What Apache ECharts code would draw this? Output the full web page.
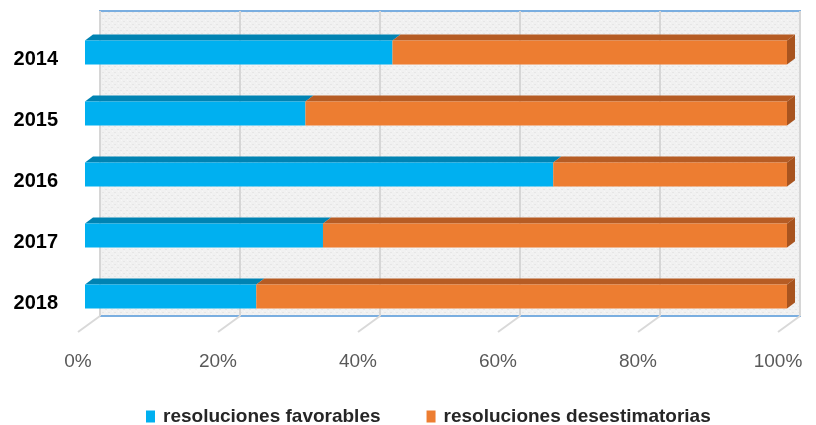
<!DOCTYPE html>
<html>
<head>
<meta charset="utf-8">
<script src="https://cdn.jsdelivr.net/npm/echarts@6/dist/echarts.min.js"></script>
<style>
  html, body { margin: 0; padding: 0; background: #ffffff; }
  #chart { width: 816px; height: 425px; }
</style>
</head>
<body>
<div id="chart"></div>
<script>
// Years shown on the category axis, top to bottom
const years = ['2014', '2015', '2016', '2017', '2018'];
// Share of resolutions per year (percent)
const favorables = [43.8, 31.4, 66.7, 33.9, 24.4];
const desestimatorias = [56.2, 68.6, 33.3, 66.1, 75.6];
// Percent ticks along the value axis
const percentTicks = [0, 20, 40, 60, 80, 100];

const seriesNames = ['resoluciones favorables', 'resoluciones desestimatorias'];
const FONT = '"Liberation Sans", Arial, sans-serif';

// Face colours for the extruded bars: front, top, side
const palette = [
  { front: '#00b0f0', top: '#0083b3', side: '#007aa8' },
  { front: '#ed7d31', top: '#b65c24', side: '#a8541f' }
];

// Light dotted texture for the back wall
function wallPattern() {
  const c = document.createElement('canvas');
  c.width = 6; c.height = 6;
  const g = c.getContext('2d');
  g.fillStyle = '#f1f1f1';
  g.fillRect(0, 0, 6, 6);
  g.fillStyle = '#e6e6e6';
  g.fillRect(0, 0, 2, 1);
  g.fillRect(3, 3, 2, 1);
  g.fillStyle = '#f7f7f7';
  g.fillRect(1, 2, 1, 1);
  g.fillRect(4, 5, 1, 1);
  return { image: c, repeat: 'repeat' };
}

const DEPTH_X = 8, DEPTH_Y = 6, BAR_H = 24;

function barRenderer(seriesIdx) {
  return function (params, api) {
    const cat = api.value(0);
    const start = api.value(1);
    const end = api.value(2);
    const p0 = api.coord([start, cat]);
    const p1 = api.coord([end, cat]);
    const top = p0[1] - BAR_H / 2;
    const bottom = p0[1] + BAR_H / 2;
    const col = palette[seriesIdx];
    const children = [
      {
        type: 'polygon',
        shape: { points: [[p0[0], top], [p1[0], top], [p1[0] + DEPTH_X, top - DEPTH_Y], [p0[0] + DEPTH_X, top - DEPTH_Y]] },
        style: { fill: col.top }
      },
      {
        type: 'rect',
        shape: { x: p0[0], y: top, width: p1[0] - p0[0], height: BAR_H },
        style: { fill: col.front }
      }
    ];
    if (seriesIdx === 1) {
      children.push({
        type: 'polygon',
        shape: { points: [[p1[0], top], [p1[0] + DEPTH_X, top - DEPTH_Y], [p1[0] + DEPTH_X, bottom - DEPTH_Y], [p1[0], bottom]] },
        style: { fill: col.side }
      });
    }
    return { type: 'group', children: children };
  };
}

const favData = years.map((y, i) => [i, 0, favorables[i]]);
const desData = years.map((y, i) => [i, favorables[i], favorables[i] + desestimatorias[i]]);

const chart = echarts.init(document.getElementById('chart'), null, { renderer: 'canvas' });

chart.setOption({
  animation: false,
  backgroundColor: '#ffffff',
  grid: [
    // back wall
    { left: 100, top: 11, width: 700, height: 305, show: true, backgroundColor: wallPattern(), borderColor: '#7aaee0', borderWidth: 2, z: 0 },
    // front plane of the bars
    { left: 85, top: 22, width: 702, height: 305 },
    // front edge of the floor, carries the percent labels
    { left: 78, top: 300, width: 700, height: 32 }
  ],
  xAxis: [
    {
      gridIndex: 0, type: 'value', min: 0, max: 100, interval: 20,
      axisLine: { show: false }, axisTick: { show: false }, axisLabel: { show: false },
      splitLine: { show: true, lineStyle: { color: '#d6d6d6', width: 2 } }
    },
    {
      gridIndex: 1, type: 'value', min: 0, max: 100, interval: 20,
      axisLine: { show: false }, axisTick: { show: false }, axisLabel: { show: false },
      splitLine: { show: false }
    },
    {
      gridIndex: 2, type: 'value', min: 0, max: 100, interval: 20,
      axisLine: { show: false }, axisTick: { show: false }, splitLine: { show: false },
      axisLabel: {
        show: true, margin: 20, formatter: '{value}%',
        fontFamily: FONT, fontSize: 19, color: '#595959'
      }
    }
  ],
  yAxis: [
    { gridIndex: 0, type: 'value', min: 0, max: 1, show: false },
    {
      gridIndex: 1, type: 'category', data: years, inverse: true,
      axisLine: { show: false }, axisTick: { show: false }, splitLine: { show: false },
      axisLabel: {
        margin: 27, fontFamily: FONT, fontSize: 20, fontWeight: 'bold', color: '#000000',
        verticalAlign: 'top', lineHeight: 13
      }
    },
    { gridIndex: 2, type: 'value', show: false }
  ],
  legend: {
    top: 402, left: 141,
    icon: 'rect', itemWidth: 9, itemHeight: 12, itemGap: 46,
    textStyle: { fontFamily: FONT, fontSize: 19, fontWeight: 'bold', color: '#262626', padding: [0, 0, 0, 3] },
    data: seriesNames
  },
  series: [
    {
      // slanted floor ticks under each gridline
      type: 'custom', xAxisIndex: 0, yAxisIndex: 0, silent: true, clip: false, z: 1,
      data: percentTicks.map(v => [v]),
      renderItem: function (params, api) {
        const p = api.coord([api.value(0), 0]);
        return {
          type: 'line',
          shape: { x1: p[0], y1: p[1], x2: p[0] - 22, y2: p[1] + 16 },
          style: { stroke: '#d9d9d9', lineWidth: 2 }
        };
      }
    },
    {
      name: seriesNames[0], type: 'custom', xAxisIndex: 1, yAxisIndex: 1, clip: false, z: 3,
      itemStyle: { color: palette[0].front },
      encode: { x: [1, 2], y: 0 },
      data: favData,
      renderItem: barRenderer(0)
    },
    {
      name: seriesNames[1], type: 'custom', xAxisIndex: 1, yAxisIndex: 1, clip: false, z: 3,
      itemStyle: { color: palette[1].front },
      encode: { x: [1, 2], y: 0 },
      data: desData,
      renderItem: barRenderer(1)
    }
  ]
});
</script>
</body>
</html>
